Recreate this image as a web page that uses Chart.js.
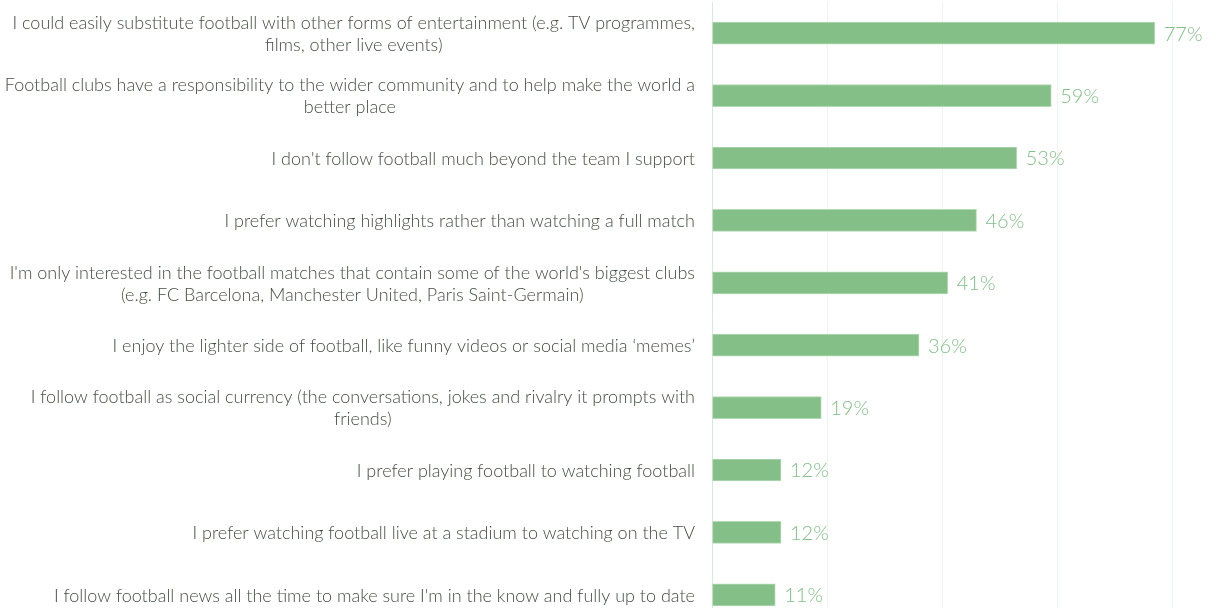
<!DOCTYPE html>
<html>
<head>
<meta charset="utf-8">
<script src="https://cdn.jsdelivr.net/npm/chart.js@4"></script>
<style>
    html, body { margin: 0; padding: 0; background: #ffffff; overflow: hidden; }
    #wrap { position: relative; width: 1217px; height: 626px; }
</style>
</head>
<body>
<div id="wrap"><canvas id="attitudesChart"></canvas></div>
<script>
// Chart data
var categories = [
    ['I could easily substitute football with other forms of entertainment (e.g. TV programmes,', 'films, other live events)'],
    ['Football clubs have a responsibility to the wider community and to help make the world a', 'better place'],
    ["I don't follow football much beyond the team I support"],
    ['I prefer watching highlights rather than watching a full match'],
    ["I'm only interested in the football matches that contain some of the world's biggest clubs", '(e.g. FC Barcelona, Manchester United, Paris Saint-Germain)'],
    ['I enjoy the lighter side of football, like funny videos or social media \u2018memes\u2019'],
    ['I follow football as social currency (the conversations, jokes and rivalry it prompts with', 'friends)'],
    ['I prefer playing football to watching football'],
    ['I prefer watching football live at a stadium to watching on the TV'],
    ["I follow football news all the time to make sure I'm in the know and fully up to date"]
];
var values = [77, 59, 53, 46, 41, 36, 19, 12, 12, 11];
var xTicks = [0, 20, 40, 60, 80];

var barColor = '#84bf87';
var labelColor = '#434e43';
var valueColor = '#82bf86';

// Category labels: right-aligned block, lines centred within the block
var sideLabels = {
    id: 'sideLabels',
    afterDraw: function(chart) {
        var ctx = chart.ctx;
        var yScale = chart.scales.y;
        var rightEdge = chart.chartArea.left - 17;
        var lineH = 22;
        ctx.save();
        ctx.font = '300 18px Lato';
        ctx.fillStyle = labelColor;
        ctx.textBaseline = 'middle';
        ctx.textAlign = 'center';
        categories.forEach(function(lines, i) {
            var y = yScale.getPixelForValue(i) + 1;
            var maxW = 0;
            lines.forEach(function(l) { maxW = Math.max(maxW, ctx.measureText(l).width); });
            var cx = rightEdge - maxW / 2;
            lines.forEach(function(l, j) {
                ctx.fillText(l, cx, y + (j - (lines.length - 1) / 2) * lineH);
            });
        });
        ctx.restore();
    }
};

// Percentage labels at bar ends
var valueLabels = {
    id: 'valueLabels',
    afterDatasetsDraw: function(chart) {
        var ctx = chart.ctx;
        var meta = chart.getDatasetMeta(0);
        ctx.save();
        ctx.font = '300 20px Lato';
        ctx.fillStyle = valueColor;
        ctx.textBaseline = 'middle';
        ctx.textAlign = 'left';
        meta.data.forEach(function(bar, i) {
            ctx.fillText(values[i] + '%', bar.x + 9, bar.y + 1);
        });
        ctx.restore();
    }
};

new Chart(document.getElementById('attitudesChart'), {
    type: 'bar',
    data: {
        labels: categories,
        datasets: [{
            data: values,
            backgroundColor: barColor,
            borderColor: '#b4dab6',
            borderWidth: 1,
            borderSkipped: false,
            barThickness: 22
        }]
    },
    options: {
        indexAxis: 'y',
        responsive: true,
        maintainAspectRatio: false,
        animation: false,
        layout: {
            padding: { left: 712, right: 45, top: 2, bottom: 0 }
        },
        plugins: {
            legend: { display: false },
            tooltip: { enabled: false }
        },
        scales: {
            x: {
                min: 0,
                max: 80,
                afterBuildTicks: function(axis) {
                    axis.ticks = xTicks.map(function(v) { return { value: v }; });
                },
                ticks: { display: false },
                grid: { color: '#eef5ee', drawTicks: false },
                border: { display: false }
            },
            y: {
                ticks: { display: false },
                grid: { display: false, drawTicks: false },
                border: { color: '#d6ecd6', width: 1 }
            }
        }
    },
    plugins: [sideLabels, valueLabels]
});
</script>
</body>
</html>
